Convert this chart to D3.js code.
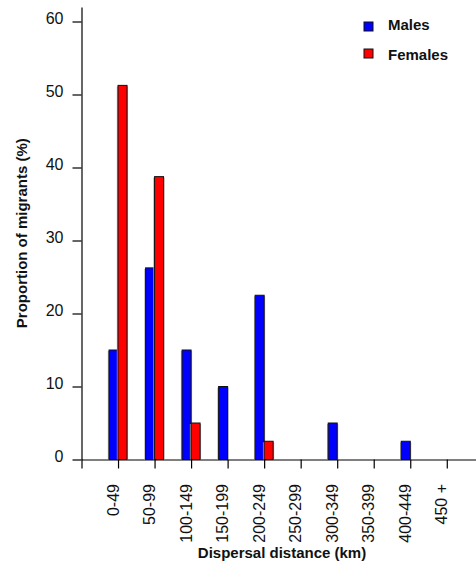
<!DOCTYPE html>
<html>
<head>
<meta charset="utf-8">
<script src="https://cdn.jsdelivr.net/npm/d3@7"></script>
<style>
  html, body { margin: 0; padding: 0; background: #fff; }
  svg { display: block; font-family: "Liberation Sans", Arial, sans-serif; }
</style>
</head>
<body>
<svg id="chart" width="476" height="565"></svg>
<script>
// Dispersal distance classes (km)
const categories = ["0-49", "50-99", "100-149", "150-199", "200-249",
                    "250-299", "300-349", "350-399", "400-449", "450 +"];
// Proportion of migrants (%) per class
const males   = [15, 26.25, 15, 10, 22.5, 0, 5, 0, 2.5, 0];
const females = [51.25, 38.75, 5, 0, 2.5, 0, 0, 0, 0, 0];
const yTicks  = [0, 10, 20, 30, 40, 50, 60];
const seriesNames = ["Males", "Females"];
const seriesColors = ["#0000ff", "#ff0000"];

const svg = d3.select("#chart");

// Category i sits on tick i; one extra tick at -1 marks the axis origin
const x = d3.scaleLinear().domain([-1, 9.8]).range([81.5, 476]);
const y = d3.scaleLinear().domain([0, 62]).range([459.5, 6.9]);
const barW = 9;

// Y axis
const yAxis = svg.append("g")
  .attr("transform", `translate(${x(-1)},0)`)
  .call(d3.axisLeft(y).tickValues(yTicks).tickSize(9).tickPadding(9).tickSizeOuter(0));
yAxis.select(".domain").attr("stroke", "#000").attr("stroke-width", 1.2);
yAxis.selectAll(".tick line").attr("stroke", "#000").attr("stroke-width", 1.2);
yAxis.selectAll(".tick text")
  .attr("font-size", 16).attr("fill", "#111")
  .attr("font-family", "Liberation Sans, Arial, sans-serif")
  .attr("dy", "0.1em");

// X axis: ticks at every class plus the origin tick
const xAxis = svg.append("g")
  .attr("transform", `translate(0,${y(0)})`)
  .call(d3.axisBottom(x).tickValues(d3.range(-1, 10)).tickSize(9).tickSizeOuter(0).tickFormat(""));
xAxis.select(".domain").attr("stroke", "#000").attr("stroke-width", 1.2);
xAxis.selectAll(".tick line").attr("stroke", "#000").attr("stroke-width", 1.2);

// Rotated class labels, baseline on the tick
svg.append("g").selectAll("text")
  .data(categories)
  .join("text")
  .attr("transform", (d, i) => `translate(${x(i) + 0.5},484) rotate(-90)`)
  .attr("text-anchor", "end")
  .attr("font-size", 16)
  .attr("fill", "#111")
  .text(d => d);

// Bars: males left of the tick, females right of it
const groups = [males, females];
groups.forEach((vals, s) => {
  const g = svg.append("g");
  const data = vals.map((v, i) => ({ v, i })).filter(d => d.v > 0);
  // soft grey edge behind each bar
  g.selectAll("rect.shadow")
    .data(data)
    .join("rect")
    .attr("class", "shadow")
    .attr("x", d => x(d.i) - (s === 0 ? barW : 0) - 1.2)
    .attr("y", d => y(d.v) + 1)
    .attr("width", barW + 2.2)
    .attr("height", d => y(0) - y(d.v) - 1)
    .attr("fill", "#aaa");
  g.selectAll("rect.bar")
    .data(data)
    .join("rect")
    .attr("class", "bar")
    .attr("x", d => x(d.i) - (s === 0 ? barW : 0))
    .attr("y", d => y(d.v))
    .attr("width", barW)
    .attr("height", d => y(0) - y(d.v))
    .attr("fill", seriesColors[s])
    .attr("stroke", "#111")
    .attr("stroke-width", 1);
});

// Axis titles
svg.append("text")
  .attr("transform", `translate(26.5,${(y(0) + y(62)) / 2}) rotate(-90)`)
  .attr("text-anchor", "middle")
  .attr("font-size", 15)
  .attr("font-weight", "bold")
  .attr("fill", "#111")
  .text("Proportion of migrants (%)");

svg.append("text")
  .attr("x", 282)
  .attr("y", 558)
  .attr("text-anchor", "middle")
  .attr("font-size", 15)
  .attr("font-weight", "bold")
  .attr("fill", "#111")
  .text("Dispersal distance (km)");

// Legend
const legend = svg.append("g");
seriesNames.forEach((name, s) => {
  legend.append("rect")
    .attr("x", 364).attr("y", 22 + s * 27)
    .attr("width", 9).attr("height", 9)
    .attr("fill", seriesColors[s])
    .attr("stroke", "#111").attr("stroke-width", 1);
  legend.append("text")
    .attr("x", 388).attr("y", 30 + s * 30)
    .attr("font-size", 15)
    .attr("font-weight", "bold")
    .attr("fill", "#111")
    .text(name);
});
</script>
</body>
</html>
